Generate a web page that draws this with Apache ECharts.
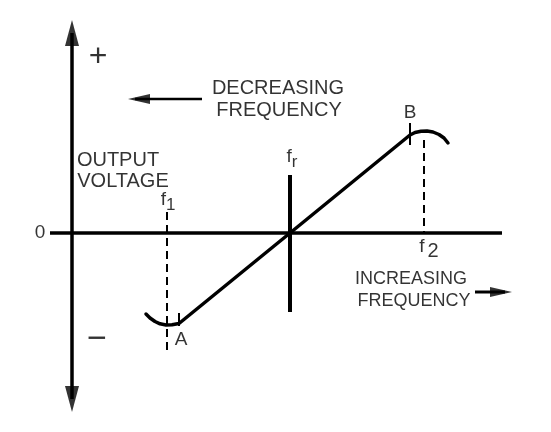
<!DOCTYPE html>
<html><head><meta charset="utf-8">
<script src="https://cdn.jsdelivr.net/npm/echarts@6/dist/echarts.min.js"></script>
<style>html,body{margin:0;padding:0;background:#fff}#c{width:551px;height:432px}</style>
</head><body><div id="c"></div>
<script>
// frequency (x) and output voltage (y) in diagram units
const curveFreq = [146,150,155,160,166,172,179,290,410,415,421,427,433,439,444,448];
const curveVolt = [-81,-85,-88.5,-90.8,-92,-91.8,-90.5,0,98,100.5,101.8,102,101,98.5,95,90];
const hAxis = [[50,0],[502,0]];
const vAxis = [[72,200],[72,-166]];
const f1Line = [[167,21],[167,-119]];
const f2Line = [[424,93],[424,0]];
const frLine = [[290,58],[290,-79]];
const tickA = [[179,-80],[179,-93]];
const tickB = [[410,110],[410,88]];
const decArrow = [[135,134],[202,134]];
const incArrow = [[475,-59],[505,-59]];
const arrowHeads = [
  {value:[72,200], rot:0, size:[14,26]},
  {value:[72,-166], rot:180, size:[14,26]},
  {value:[139,134], rot:90, size:[10,22]},
  {value:[501,-59], rot:-90, size:[10,22]}
];
const labels = [
  {value:[98,176], text:'+', size:32},
  {value:[97,-107], text:'\u2212', size:34},
  {value:[40,0], text:'0', size:19},
  {value:[278,145], text:'DECREASING', size:20},
  {value:[279,123], text:'FREQUENCY', size:20},
  {value:[118,73], text:'OUTPUT', size:20},
  {value:[123,52], text:'VOLTAGE', size:20},
  {value:[168,33], text:'{f|f}{s|1}', size:19},
  {value:[292,76], text:'{f|f}{s|r}', size:19},
  {value:[429,-14], text:'{f|f}{s2|2}', size:19},
  {value:[181,-107], text:'A', size:19},
  {value:[410,120], text:'B', size:19},
  {value:[411,-46], text:'INCREASING', size:18},
  {value:[414,-68], text:'FREQUENCY', size:18}
];
const FONT = '"Liberation Sans", Arial, sans-serif';
const seg = (d, w, type) => ({type:'line', data:d, symbol:'none', silent:true, animation:false,
  lineStyle:{color:'#000', width:w, type:type||'solid', cap:'butt'}});
const option = {
  animation:false,
  grid:{left:0,right:0,top:0,bottom:0},
  xAxis:{type:'value',min:0,max:551,show:false},
  yAxis:{type:'value',min:-199,max:233,show:false},
  series:[
    seg(hAxis,3.5), seg(vAxis,3.5),
    seg(f1Line,2,[8,5]), seg(f2Line,2,[8,5]),
    seg(frLine,4),
    seg(tickA,2), seg(tickB,2),
    seg(decArrow,2.5), seg(incArrow,3),
    {type:'line', data:curveFreq.map((f,i)=>[f,curveVolt[i]]), symbol:'none', smooth:false,
     lineStyle:{color:'#000',width:3.5,join:'round',cap:'round'}},
    {type:'scatter', data:arrowHeads.map(a=>({value:a.value, symbolRotate:a.rot, symbolSize:a.size})),
     symbol:'triangle', itemStyle:{color:'#000'}, silent:true},
    {type:'scatter', symbolSize:0, silent:true,
     data:labels.map(l=>({value:l.value, label:{formatter:l.text, fontSize:l.size}})),
     label:{show:true, position:'inside', color:'#000', fontFamily:FONT, align:'center', verticalAlign:'middle',
       rich:{f:{fontSize:19,fontFamily:FONT,color:'#000'},
             s:{fontSize:17,fontFamily:FONT,color:'#000',padding:[10,0,0,0]},
             s2:{fontSize:20,fontFamily:FONT,color:'#000',padding:[8,0,0,3]}}}}
  ]
};
const chart = echarts.init(document.getElementById('c'), null, {renderer:'canvas'});
chart.setOption(option);
</script></body></html>
